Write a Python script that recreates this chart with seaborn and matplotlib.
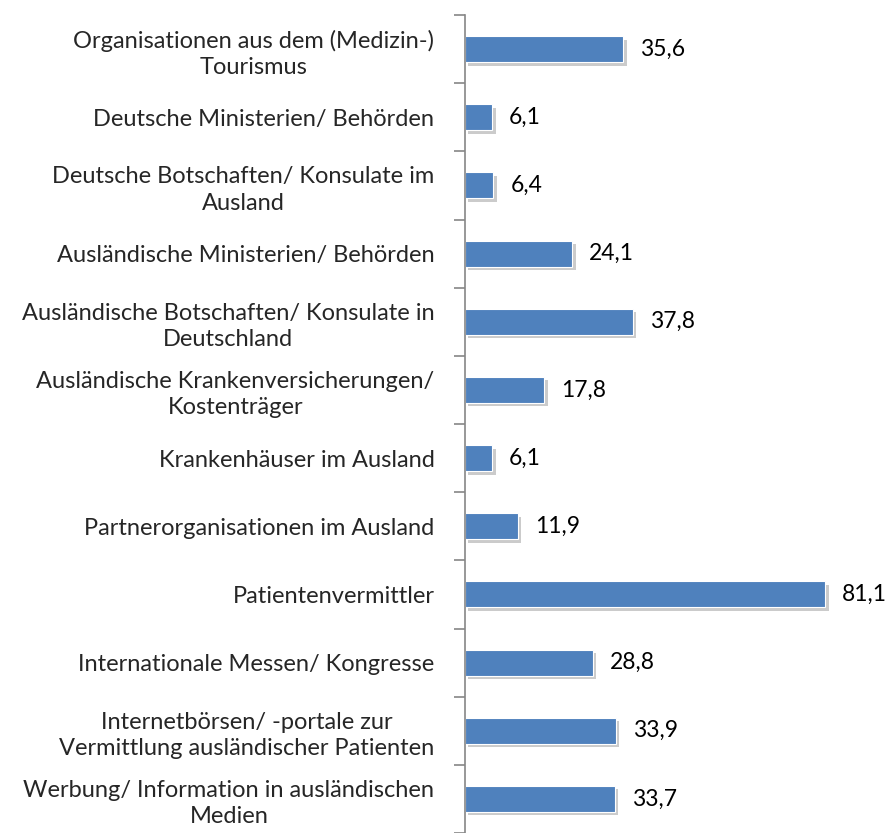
import numpy as np
import pandas as pd
import seaborn as sns
import matplotlib.pyplot as plt
import matplotlib.patheffects as pe

categories = [
    'Organisationen aus dem (Medizin-)\nTourismus',
    'Deutsche Ministerien/ Behörden',
    'Deutsche Botschaften/ Konsulate im\nAusland',
    'Ausländische Ministerien/ Behörden',
    'Ausländische Botschaften/ Konsulate in\nDeutschland',
    'Ausländische Krankenversicherungen/\nKostenträger',
    'Krankenhäuser im Ausland',
    'Partnerorganisationen im Ausland',
    'Patientenvermittler',
    'Internationale Messen/ Kongresse',
    'Internetbörsen/ -portale zur\nVermittlung ausländischer Patienten',
    'Werbung/ Information in ausländischen\nMedien',
]
values = [35.6, 6.1, 6.4, 24.1, 37.8, 17.8, 6.1, 11.9, 81.1, 28.8, 33.9, 33.7]

df = pd.DataFrame({'cat': categories, 'val': values})

sns.set_style('white')
plt.rcParams['font.family'] = ['Lato', 'DejaVu Sans']

fig = plt.figure(figsize=(8.9, 8.33), dpi=100)
ax = fig.add_axes([465 / 890, 0, 400 / 890, 818 / 833])

sns.barplot(data=df, x='val', y='cat', orient='h', color='#4F81BD',
            saturation=1, width=0.38, edgecolor='white', linewidth=0.8, ax=ax)

for p in ax.patches:
    p.set_path_effects([pe.SimplePatchShadow(offset=(2.5, -2.5), shadow_rgbFace='#999999', alpha=0.5),
                        pe.Normal()])

for i, v in enumerate(values):
    ax.text(v + 3.8, i, f'{v:.1f}'.replace('.', ','), va='center', ha='left',
            fontsize=16.5, color='black')

ax.set_xlim(0, 90)
ax.set_ylim(len(categories) - 0.5, -0.5)
ax.set_xlabel('')
ax.set_ylabel('')
ax.set_xticks([])
for s in ['top', 'right', 'bottom']:
    ax.spines[s].set_visible(False)
ax.spines['left'].set_color('#868686')
ax.spines['left'].set_linewidth(1.2)

ax.set_yticks(np.arange(len(categories)))
ax.set_yticklabels(categories, fontsize=17)
for t in ax.get_yticklabels():
    t.set_multialignment('center')
    t.set_linespacing(1.3)
ax.tick_params(axis='y', which='major', length=0, pad=22)
ax.set_yticks(np.arange(len(categories) + 1) - 0.5, minor=True)
ax.tick_params(axis='y', which='minor', length=8, width=1.2, color='#868686', left=True)

fig.savefig('out.png', dpi=100)
